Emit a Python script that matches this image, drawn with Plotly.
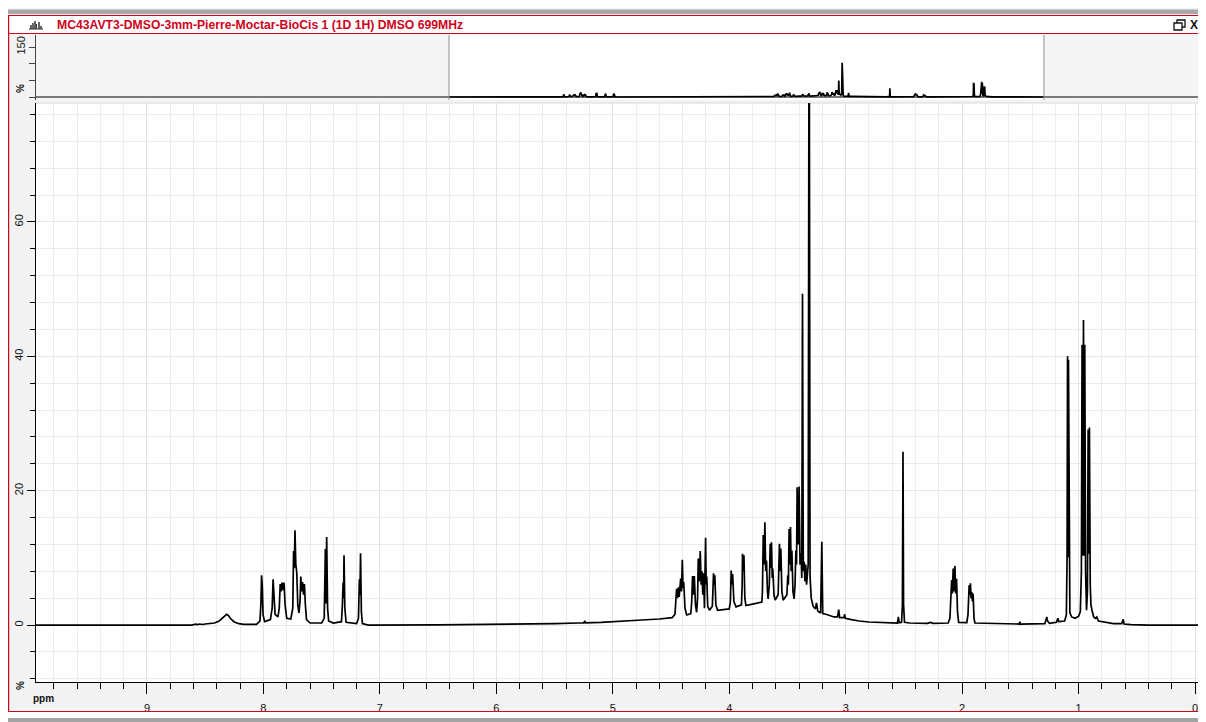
import plotly.graph_objects as go

# ---------------- data (ppm, intensity %) ----------------
seg_aromatic = [
    [9.953, 0], [8.62, 0], [8.58, 0.12], [8.565, 0.05], [8.55, 0.15], [8.52, 0.08], [8.50, 0.15],
    [8.46, 0.2], [8.42, 0.3], [8.38, 0.6], [8.35, 1.1], [8.33, 1.5], [8.316, 1.6], [8.30, 1.4],
    [8.28, 0.9], [8.25, 0.45], [8.21, 0.2], [8.17, 0.1], [8.06, 0.1], [8.03, 0.6], [8.022, 3.0],
    [8.016, 7.4], [8.010, 5.8], [8.003, 1.5], [7.99, 0.5], [7.94, 0.8], [7.925, 2.5], [7.917, 6.8],
    [7.910, 4.5], [7.90, 1.6], [7.875, 1.2], [7.864, 2.5], [7.856, 6.1], [7.848, 5.0], [7.840, 6.3],
    [7.832, 5.2], [7.823, 6.3], [7.814, 3.0], [7.80, 1.0], [7.765, 0.9], [7.748, 2.5], [7.741, 11.0],
    [7.735, 8.5], [7.729, 14.1], [7.722, 9.0], [7.714, 7.9], [7.705, 3.0], [7.695, 1.8], [7.686, 3.5],
    [7.679, 7.2], [7.672, 5.0], [7.664, 6.4], [7.656, 4.5], [7.648, 6.1], [7.640, 3.0], [7.63, 0.8],
    [7.60, 0.3], [7.50, 0.3], [7.478, 1.0], [7.468, 11.3], [7.463, 3.2], [7.457, 13.1], [7.449, 2.5],
    [7.44, 0.6], [7.40, 0.3], [7.33, 0.5], [7.322, 3.0], [7.316, 6.3], [7.312, 4.0], [7.308, 10.4],
    [7.301, 2.5], [7.29, 0.4], [7.20, 0.2], [7.184, 1.0], [7.176, 6.8], [7.171, 4.5], [7.166, 10.7],
    [7.159, 2.0], [7.15, 0.2], [7.10, 0.0],
]

seg_sugar = [
    [6.5, 0.02], [6.0, 0.06], [5.7, 0.12], [5.5, 0.2], [5.3, 0.3], [5.25, 0.32], [5.24, 0.6],
    [5.235, 0.33], [5.1, 0.4], [4.9, 0.55], [4.75, 0.75], [4.6, 0.9], [4.49, 1.1], [4.466, 1.6],
    [4.455, 4.5], [4.452, 5.4], [4.445, 4.0], [4.437, 5.6], [4.43, 4.2], [4.417, 6.9], [4.41, 5.0],
    [4.403, 9.7], [4.397, 5.5], [4.391, 6.4], [4.38, 2.5], [4.366, 1.5], [4.33, 1.7], [4.322, 3.5],
    [4.315, 7.3], [4.308, 4.5], [4.300, 7.3], [4.29, 3.0], [4.28, 1.9], [4.272, 4.0], [4.266, 9.9],
    [4.258, 6.5], [4.249, 11.0], [4.241, 6.0], [4.234, 8.0], [4.227, 4.5], [4.220, 7.7], [4.213, 2.5],
    [4.203, 13.0], [4.198, 6.0], [4.193, 7.2], [4.185, 2.8], [4.17, 2.2], [4.145, 2.8], [4.135, 7.7],
    [4.130, 6.0], [4.124, 7.4], [4.115, 3.0], [4.10, 2.2], [4.00, 2.4], [3.99, 3.5], [3.983, 8.1],
    [3.977, 6.0], [3.971, 7.6], [3.96, 3.5], [3.942, 2.7], [3.895, 3.0], [3.889, 6.0], [3.886, 10.6],
    [3.880, 8.0], [3.874, 10.4], [3.866, 4.0], [3.857, 2.9], [3.80, 3.1], [3.72, 3.4], [3.715, 5.0],
    [3.708, 13.4], [3.700, 9.0], [3.694, 15.3], [3.687, 8.0], [3.680, 9.6], [3.672, 5.0], [3.666, 3.9],
    [3.656, 6.0], [3.648, 12.1], [3.642, 8.5], [3.637, 12.3], [3.631, 7.0], [3.626, 8.4], [3.616, 4.5],
    [3.606, 3.7], [3.58, 4.5], [3.569, 12.1], [3.563, 8.0], [3.557, 11.4], [3.548, 5.0], [3.537, 3.7],
    [3.505, 4.5], [3.497, 7.4], [3.492, 6.0], [3.486, 14.3], [3.480, 9.0], [3.474, 14.6], [3.468, 8.0],
    [3.462, 11.1], [3.453, 5.0], [3.443, 3.9], [3.435, 6.0], [3.428, 11.1], [3.422, 9.0], [3.417, 20.5],
    [3.408, 12.0], [3.400, 20.6], [3.392, 9.0], [3.383, 10.7], [3.377, 7.0], [3.371, 49.3], [3.364, 8.0],
    [3.357, 9.4], [3.350, 6.5], [3.343, 9.0], [3.336, 6.0], [3.330, 8.0], [3.322, 9.0], [3.314, 103.0],
    [3.306, 7.2], [3.296, 4.0], [3.28, 2.8], [3.26, 2.4], [3.251, 3.3], [3.24, 2.1], [3.215, 1.8],
    [3.205, 12.4], [3.197, 1.7], [3.17, 1.6], [3.10, 1.2], [3.07, 1.2], [3.06, 2.3], [3.052, 1.1],
    [3.015, 1.1], [3.009, 1.6], [3.003, 1.0], [2.95, 0.8], [2.885, 0.6],
]

seg_aliphatic = [
    [2.80, 0.45], [2.70, 0.38], [2.60, 0.32], [2.556, 0.3], [2.548, 1.2], [2.540, 0.35], [2.52, 0.4],
    [2.513, 3.0], [2.508, 25.8], [2.503, 3.0], [2.495, 0.4], [2.45, 0.3], [2.30, 0.25], [2.27, 0.4],
    [2.25, 0.25], [2.12, 0.3], [2.105, 1.0], [2.097, 4.5], [2.090, 6.7], [2.084, 4.7], [2.077, 8.4],
    [2.070, 5.0], [2.062, 8.8], [2.055, 4.7], [2.048, 6.9], [2.040, 2.0], [2.03, 0.4], [1.96, 0.35],
    [1.95, 1.5], [1.940, 5.9], [1.935, 4.5], [1.929, 6.2], [1.923, 4.0], [1.918, 4.9], [1.912, 3.5],
    [1.906, 4.7], [1.898, 1.0], [1.89, 0.3], [1.76, 0.25], [1.51, 0.15], [1.505, 0.5], [1.50, 0.15],
    [1.29, 0.2], [1.278, 0.8], [1.273, 1.2], [1.267, 0.6], [1.25, 0.25], [1.19, 0.4], [1.178, 1.0],
    [1.17, 0.5], [1.12, 0.6], [1.105, 1.5], [1.099, 10.0], [1.095, 40.0], [1.091, 10.1], [1.087, 39.5],
    [1.082, 8.0], [1.075, 1.8], [1.06, 1.2], [1.03, 1.0], [1.00, 1.3], [0.985, 2.0], [0.976, 8.0],
    [0.970, 41.7], [0.964, 10.3], [0.958, 45.4], [0.952, 10.3], [0.947, 41.7], [0.940, 8.0],
    [0.932, 2.2], [0.924, 5.0], [0.918, 29.1], [0.912, 10.6], [0.907, 29.4], [0.900, 6.0],
    [0.894, 3.0], [0.885, 2.2], [0.87, 1.2], [0.855, 1.0], [0.844, 1.2], [0.83, 0.6], [0.774, 0.4],
    [0.70, 0.2], [0.63, 0.2], [0.617, 0.85], [0.61, 0.15], [0.55, 0.05], [0.40, 0.0], [-0.094, 0.0],
]

x_tick_vals = [0, 1, 2, 3, 4, 5, 6, 7, 8, 9]
y_tick_vals = [0, 20, 40, 60]
y_tick_text = ["0", "20", "40", "60"]
ov_tick_vals = [0, 50, 100, 150]
ov_tick_text = ["", "", "", "150"]
title_text = "MC43AVT3-DMSO-3mm-Pierre-Moctar-BioCis 1 (1D 1H) DMSO 699MHz"

ppm = [p for p, _ in seg_aromatic + seg_sugar + seg_aliphatic]
inten = [v for _, v in seg_aromatic + seg_sugar + seg_aliphatic]

# ---------------- geometry (page pixels; the page body adds an 8 px offset) ----------------
OFF = 8
W, H = 1198, 714
L, R, T, B = 28, 0, 27, 40
PW, PH = W - L - R, H - T - B


def fx(px):
    return (px - OFF - L) / PW


def fy(py):
    return (H - B - (py - OFF)) / PH


main_range = [9.953, -0.094]
ov_range = [16.927, -2.83]
RED = "#d0021b"

fig = go.Figure()
fig.add_trace(go.Scatter(x=ppm, y=inten, mode="lines", xaxis="x", yaxis="y",
                         line=dict(color="black", width=1.7), hoverinfo="skip", showlegend=False))
fig.add_trace(go.Scatter(x=ppm, y=inten, mode="lines", xaxis="x2", yaxis="y2",
                         line=dict(color="black", width=1.7), hoverinfo="skip", showlegend=False))

tickfont = dict(family="Liberation Sans", size=11, color="#111")

fig.update_layout(
    width=W, height=H, template="none",
    margin=dict(l=L, r=R, t=T, b=B, autoexpand=False),
    paper_bgcolor="#f3f3f3", plot_bgcolor="white", showlegend=False,
    xaxis=dict(domain=[0, 1], range=main_range, anchor="y", tickmode="array", tickvals=x_tick_vals,
               ticks="outside", ticklen=11, tickcolor="black", tickwidth=1, showline=True,
               linecolor="black", linewidth=1, showgrid=True, gridcolor="#e2e2e2", gridwidth=1,
               zeroline=False, tickfont=tickfont, ticklabelstandoff=5, automargin=False,
               minor=dict(dtick=0.2, tick0=0, ticks="outside", ticklen=6, tickcolor="black",
                          showgrid=True, gridcolor="#ececec", gridwidth=1)),
    yaxis=dict(domain=[0, fy(103)], range=[-8.48, 77.7], anchor="x", tickmode="array",
               tickvals=y_tick_vals, ticktext=y_tick_text, tickangle=-90, ticks="outside", ticklen=8,
               tickcolor="black", showline=True, linecolor="black", linewidth=1, showgrid=True,
               gridcolor="#e6e6e6", zeroline=False, tickfont=tickfont, automargin=False,
               minor=dict(dtick=4, tick0=0, ticks="outside", ticklen=5, tickcolor="black",
                          showgrid=True, gridcolor="#ececec", gridwidth=1)),
    xaxis2=dict(domain=[0, 1], range=ov_range, anchor="y2", showticklabels=False, ticks="",
                showgrid=False, zeroline=False, showline=False, automargin=False),
    yaxis2=dict(domain=[fy(100), 1], range=[-9, 186], anchor="x2", tickmode="array",
                tickvals=ov_tick_vals, ticktext=ov_tick_text, tickangle=-90, ticks="outside",
                ticklen=6, tickcolor="#444", showline=True, linecolor="#444", linewidth=1,
                showgrid=False, zeroline=True, zerolinecolor="#7a7a7a", zerolinewidth=2,
                tickfont=tickfont, automargin=False),
)

shapes = []
RIGHT = OFF + W


def prect(x0, y0, x1, y1, color, layer="below"):
    shapes.append(dict(type="rect", xref="paper", yref="paper", x0=fx(x0), x1=fx(x1),
                       y0=fy(y0), y1=fy(y1), fillcolor=color, line=dict(width=0), layer=layer))


def pline(x0, y0, x1, y1, color, width=1, layer="above"):
    shapes.append(dict(type="line", xref="paper", yref="paper", x0=fx(x0), x1=fx(x1),
                       y0=fy(y0), y1=fy(y1), line=dict(color=color, width=width), layer=layer))


# window frame
prect(OFF, OFF, RIGHT, 9.5, "#f4f4f4")
prect(OFF, 9.5, RIGHT, 14, "#a9a9a9")
prect(8, 15, RIGHT, 33, "#ffffff")
prect(8, 712, RIGHT, 718, "#ffffff")
prect(OFF, 718, RIGHT, 722, "#a3a3a3")
pline(8, 15.5, RIGHT, 15.5, RED, 1.2)
pline(8, 33.5, RIGHT, 33.5, RED, 1.2)
pline(8.6, 15, 8.6, 712, RED, 1.2)
pline(8, 711.5, RIGHT, 711.5, RED, 1.2)
pline(36, 103, RIGHT, 103, "#d9d9d9", 1, "below")

# overview shading outside the zoom window
for a, b in [(ov_range[0], main_range[0]), (main_range[1], ov_range[1])]:
    shapes.append(dict(type="rect", xref="x2", yref="y2 domain", x0=a, x1=b, y0=0, y1=1,
                       fillcolor="#f5f5f5", line=dict(width=0), layer="below"))
for xv in main_range:
    shapes.append(dict(type="line", xref="x2", yref="y2 domain", x0=xv, x1=xv, y0=0, y1=1,
                       line=dict(color="#8c8c8c", width=1), layer="above"))


def ppath(pts):
    d = ""
    for i, (px, py) in enumerate(pts):
        d += ("M" if i == 0 else "L") + f"{fx(px):.5f},{fy(py):.5f} "
    return d


# title icon (small spectrum glyph)
icon_pts = [(29, 29), (31, 29), (31, 25), (31, 29), (33, 29), (33, 23), (33, 29), (35, 29), (35, 21),
            (35, 29), (36.5, 29), (36.5, 24), (36.5, 29), (39, 29), (39, 22), (39, 29), (41, 29),
            (41, 26), (41, 29), (43, 29)]
shapes.append(dict(type="path", xref="paper", yref="paper", path=ppath(icon_pts),
                   line=dict(color="#333", width=1)))
# restore icon
shapes.append(dict(type="rect", xref="paper", yref="paper", x0=fx(1177), x1=fx(1185), y0=fy(20),
                   y1=fy(27), line=dict(color="#111", width=1.3), fillcolor="white"))
shapes.append(dict(type="rect", xref="paper", yref="paper", x0=fx(1174), x1=fx(1182), y0=fy(23),
                   y1=fy(30), line=dict(color="#111", width=1.3), fillcolor="white"))
fig.update_layout(shapes=shapes)

ann = [
    dict(x=fx(55), y=fy(25), xref="paper", yref="paper", text="<b>" + title_text + "</b>",
         showarrow=False, xanchor="left", yanchor="middle",
         font=dict(family="Liberation Sans", size=12.2, color=RED)),
    dict(x=fx(1188), y=fy(25), xref="paper", yref="paper", text="<b>X</b>", showarrow=False,
         xanchor="left", yanchor="middle", font=dict(family="Liberation Sans", size=12, color="#111")),
    dict(x=fx(31), y=fy(698), xref="paper", yref="paper", text="<b>ppm</b>", showarrow=False,
         xanchor="left", yanchor="middle", font=dict(family="Liberation Sans", size=10, color="#111")),
    dict(x=fx(20), y=fy(686), xref="paper", yref="paper", text="<b>%</b>", showarrow=False,
         textangle=-90, xanchor="center", yanchor="middle",
         font=dict(family="Liberation Sans", size=10, color="#111")),
    dict(x=fx(20), y=fy(89), xref="paper", yref="paper", text="<b>%</b>", showarrow=False,
         textangle=-90, xanchor="center", yanchor="middle",
         font=dict(family="Liberation Sans", size=10, color="#111")),
]
fig.update_layout(annotations=ann)

fig.write_html("out.html")
